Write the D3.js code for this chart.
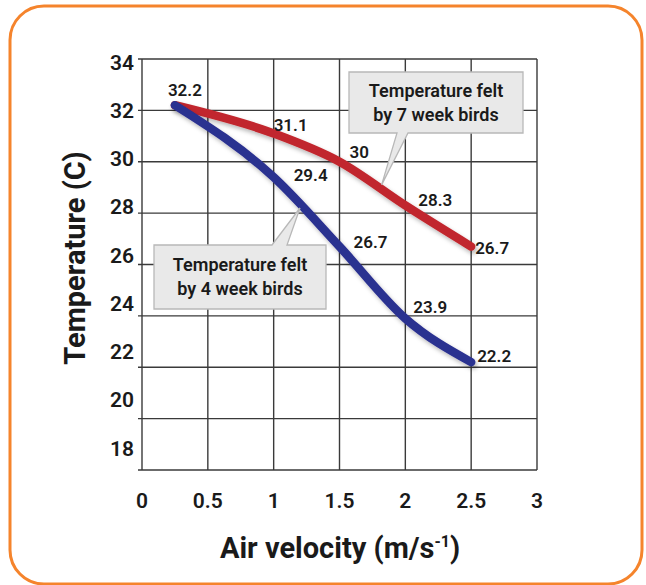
<!DOCTYPE html>
<html>
<head>
<meta charset="utf-8">
<script src="https://cdn.jsdelivr.net/npm/d3@7"></script>
<style>
  body { margin: 0; background: #fff; }
  text { font-family: Roboto, "DejaVu Sans Condensed", sans-serif; fill: #1a1a1a; }
</style>
</head>
<body>
<div id="chart"></div>
<script>
// air velocity (m/s) where the readings were taken
let velocity = [0.25, 1, 1.5, 2, 2.5]
// temperature felt (C)
let sevenWeek = [32.2, 31.1, 30, 28.3, 26.7]
let fourWeek = [32.2, 29.4, 26.7, 23.9, 22.2]
let xTicks = [0, 0.5, 1, 1.5, 2, 2.5, 3]
let yTicks = [18, 20, 22, 24, 26, 28, 30, 32, 34]

let W = 646
let H = 585

let svg = d3.select('#chart').append('svg').attr('width', W).attr('height', H)

let defs = svg.append('defs')
let shadow = defs.append('filter').attr('id', 'shadow')
    .attr('x', '-10%').attr('y', '-10%').attr('width', '130%').attr('height', '130%')
shadow.append('feDropShadow')
    .attr('dx', 2).attr('dy', 3).attr('stdDeviation', 2)
    .attr('flood-color', '#000').attr('flood-opacity', 0.28)

// orange frame
svg.append('rect')
    .attr('x', 10).attr('y', 6).attr('width', 632).attr('height', 578)
    .attr('rx', 34).attr('ry', 34)
    .attr('fill', 'none').attr('stroke', '#f5842c').attr('stroke-width', 3)

let x = d3.scaleLinear().domain([0, 3]).range([142, 537])
let y = d3.scaleLinear().domain([18, 34]).range([470, 59])
// the printed tick labels sit a little off the grid lines
let yLab = d3.scaleLinear().domain([18, 34]).range([448, 62])

// grid
let grid = svg.append('g').attr('stroke', '#3a3a3a').attr('stroke-width', 1.4)
grid.selectAll('.v').data(xTicks).enter().append('line')
    .attr('x1', (d) => x(d)).attr('x2', (d) => x(d))
    .attr('y1', y(34)).attr('y2', y(18))
grid.selectAll('.h').data(yTicks).enter().append('line')
    .attr('x1', x(0) - 4).attr('x2', x(3))
    .attr('y1', (d) => y(d)).attr('y2', (d) => y(d))

// tick labels
svg.append('g').selectAll('text').data(yTicks).enter().append('text')
    .attr('x', 134).attr('y', (d) => yLab(d))
    .attr('dy', '0.36em').attr('text-anchor', 'end')
    .attr('font-size', 21).attr('font-weight', 600)
    .text((d) => d)

svg.append('g').selectAll('text').data(xTicks).enter().append('text')
    .attr('x', (d) => x(d)).attr('y', 500)
    .attr('dy', '0.36em').attr('text-anchor', 'middle')
    .attr('font-size', 21).attr('font-weight', 600)
    .text((d) => d)

// axis titles
let xt = svg.append('text')
    .attr('x', 340).attr('y', 558).attr('text-anchor', 'middle')
    .attr('font-size', 29).attr('font-weight', 700)
xt.append('tspan').text('Air velocity (m/s')
xt.append('tspan').attr('font-size', 16).attr('dy', -11).text('-1')
xt.append('tspan').attr('dy', 11).text(')')

svg.append('text')
    .attr('transform', 'translate(85,258) rotate(-90)')
    .attr('text-anchor', 'middle')
    .attr('font-size', 29).attr('font-weight', 700)
    .text('Temperature (C)')

// callouts
function callout (box, tip, base, lines) {
  // box = [x, y, w, h]; base = [x1, x2] where the pointer leaves the box edge
  let [bx, by, bw, bh] = box
  let up = tip[1] < by
  let edge = up ? by : by + bh
  let p = d3.path()
  p.moveTo(bx, by)
  if (up) {
    p.lineTo(base[0], by); p.lineTo(tip[0], tip[1]); p.lineTo(base[1], by)
  }
  p.lineTo(bx + bw, by)
  p.lineTo(bx + bw, by + bh)
  if (!up) {
    p.lineTo(base[1], edge); p.lineTo(tip[0], tip[1]); p.lineTo(base[0], edge)
  }
  p.lineTo(bx, by + bh)
  p.closePath()
  let g = svg.append('g')
  g.append('path').attr('d', p.toString())
      .attr('fill', '#e9e9e9').attr('stroke', '#b8b8b8').attr('stroke-width', 1.3)
  g.append('text')
      .attr('x', bx + bw / 2).attr('y', by + bh / 2 - 12)
      .attr('text-anchor', 'middle').attr('font-size', 18).attr('font-weight', 600)
      .selectAll('tspan').data(lines).enter().append('tspan')
        .attr('x', bx + bw / 2).attr('dy', (d, i) => i === 0 ? '0.36em' : 24)
        .text((d) => d)
}

// series lines
let line = d3.line()
    .x((d) => x(d[0]))
    .y((d) => y(d[1]))
    .curve(d3.curveMonotoneX)

let series = [
  { vals: sevenWeek, color: '#c1272d' },
  { vals: fourWeek, color: '#2b3090' }
]

series.forEach(function (s) {
  svg.append('path')
      .datum(velocity.map((v, i) => [v, s.vals[i]]))
      .attr('d', line)
      .attr('fill', 'none')
      .attr('stroke', s.color)
      .attr('stroke-width', 8.5)
      .attr('stroke-linecap', 'round')
      .attr('stroke-linejoin', 'round')
      .attr('filter', 'url(#shadow)')
})

callout([349, 72, 174, 61], [x(1.82), y(29.1)], [397, 408], ['Temperature felt', 'by 7 week birds'])
callout([154, 245, 172, 64], [x(1.2), y(28.2)], [272, 287], ['Temperature felt', 'by 4 week birds'])

// value labels, nudged by hand like the printed chart
let sevenOff = [[-7, -15], [0, -9], [10, -10], [13, -6], [4, 1]]
let fourOff = [[0, 0], [20, -2], [14, -5], [8, -12], [6, -6]]

let lab = svg.append('g').attr('font-size', 17).attr('font-weight', 600)
sevenWeek.forEach(function (v, i) {
  lab.append('text')
      .attr('x', x(velocity[i]) + sevenOff[i][0])
      .attr('y', y(v) + sevenOff[i][1])
      .attr('dy', '0.36em')
      .text(v)
})
fourWeek.forEach(function (v, i) {
  if (i === 0) return
  lab.append('text')
      .attr('x', x(velocity[i]) + fourOff[i][0])
      .attr('y', y(v) + fourOff[i][1])
      .attr('dy', '0.36em')
      .text(v)
})
</script>
</body>
</html>
